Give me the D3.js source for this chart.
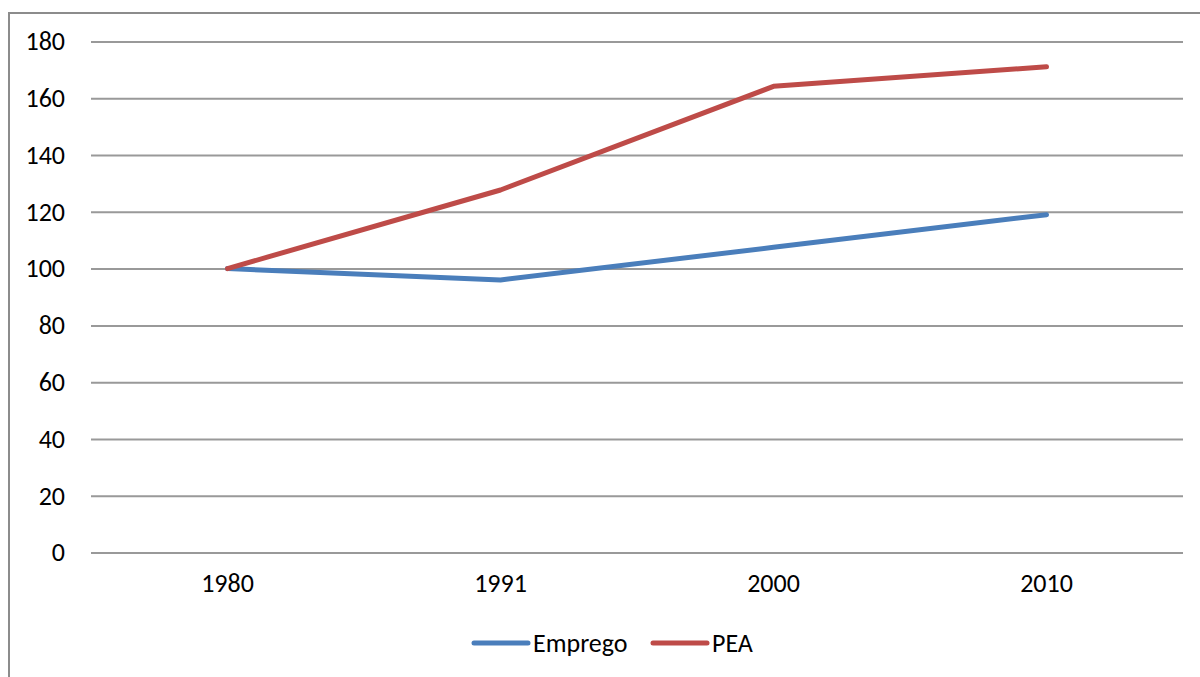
<!DOCTYPE html>
<html>
<head>
<meta charset="utf-8">
<script src="https://cdn.jsdelivr.net/npm/d3@7"></script>
<style>
  body { margin: 0; background: #fff; }
  text { font-family: Carlito, "Open Sans", "Noto Sans", sans-serif; fill: #000; }
</style>
</head>
<body>
<div id="chart"></div>
<script>
// data
const years = ['1980', '1991', '2000', '2010'];
const emprego = [100, 96.0, 107.5, 119.0];
const pea = [100, 127.7, 164.2, 171.1];
const yTicks = [0, 20, 40, 60, 80, 100, 120, 140, 160, 180];
const seriesNames = ['Emprego', 'PEA'];
const seriesColors = ['#4A7EBB', '#BE4B48'];

const width = 1200, height = 677;
const margin = {top: 41.5, right: 17, bottom: 124.5, left: 91};
const fontSize = '26px';

const svg = d3.select('#chart').append('svg')
    .attr('width', width)
    .attr('height', height);

// outer frame
svg.append('rect')
    .attr('x', 9).attr('y', 13)
    .attr('width', 1200).attr('height', 700)
    .attr('fill', 'none')
    .attr('stroke', '#8c8c8c')
    .attr('stroke-width', 2);

const x = d3.scaleBand()
    .domain(years)
    .range([margin.left, width - margin.right]);

const y = d3.scaleLinear()
    .domain([0, 180])
    .range([height - margin.bottom, margin.top]);

// gridlines + y labels
const yAxis = d3.axisLeft(y)
    .tickValues(yTicks)
    .tickSize(-(width - margin.left - margin.right))
    .tickPadding(26);

svg.append('g')
    .attr('transform', `translate(${margin.left},0)`)
    .call(yAxis)
    .call(g => g.select('.domain').remove())
    .call(g => g.selectAll('line').attr('stroke', '#999').attr('stroke-width', 2))
    .call(g => g.selectAll('text').style('font-size', fontSize).attr('fill', '#000'));

// x labels
const xAxis = d3.axisBottom(x).tickSize(0).tickPadding(21);
svg.append('g')
    .attr('transform', `translate(0,${y(0)})`)
    .call(xAxis)
    .call(g => g.select('.domain').remove())
    .call(g => g.selectAll('text').style('font-size', fontSize).attr('fill', '#000'));

const line = d3.line()
    .x((d, i) => x(years[i]) + x.bandwidth() / 2)
    .y(d => y(d));

[emprego, pea].forEach((vals, k) => {
    svg.append('path')
        .datum(vals)
        .attr('d', line)
        .attr('fill', 'none')
        .attr('stroke', seriesColors[k])
        .attr('stroke-width', 5)
        .attr('stroke-linecap', 'round')
        .attr('stroke-linejoin', 'round');
});

// legend
const legendX = [474, 653];
const legendY = 643;
const legend = svg.append('g').selectAll('g')
    .data(seriesNames)
    .join('g')
    .attr('transform', (d, i) => `translate(${legendX[i]},${legendY})`);

legend.append('line')
    .attr('x1', 0).attr('x2', 54)
    .attr('stroke', (d, i) => seriesColors[i])
    .attr('stroke-width', 5)
    .attr('stroke-linecap', 'round');

legend.append('text')
    .attr('x', 59)
    .attr('dy', '0.35em')
    .style('font-size', fontSize)
    .text(d => d);
</script>
</body>
</html>
